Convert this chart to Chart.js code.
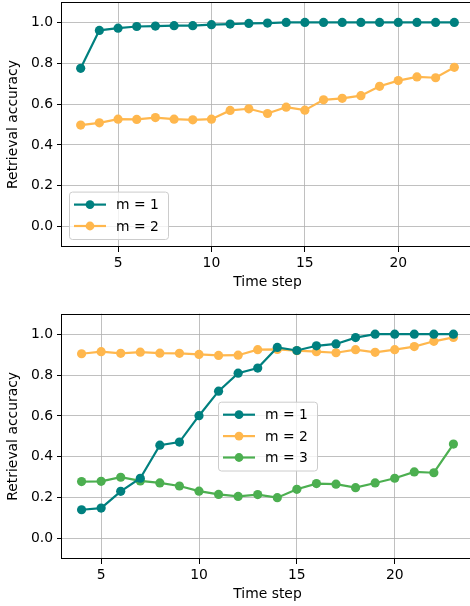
<!DOCTYPE html>
<html>
<head>
<meta charset="utf-8">
<script src="https://cdn.jsdelivr.net/npm/chart.js@4"></script>
<style>
  html, body { margin: 0; padding: 0; background: #fff; overflow: hidden; }
  canvas { display: block; }
</style>
</head>
<body>
<canvas id="topChart" width="474" height="294"></canvas>
<canvas id="bottomChart" width="474" height="312"></canvas>
<script>
// values
const topSteps = [3, 4, 5, 6, 7, 8, 9, 10, 11, 12, 13, 14, 15, 16, 17, 18, 19, 20, 21, 22, 23];
const topM1 = [0.775, 0.961, 0.972, 0.980, 0.982, 0.984, 0.984, 0.989, 0.992, 0.995, 0.997, 1.0, 1.0, 1.0, 1.0, 1.0, 1.0, 1.0, 1.0, 1.0, 1.0];
const topM2 = [0.497, 0.508, 0.526, 0.525, 0.534, 0.526, 0.523, 0.526, 0.569, 0.577, 0.554, 0.585, 0.570, 0.621, 0.628, 0.641, 0.687, 0.715, 0.733, 0.729, 0.780];

const bottomSteps = [4, 5, 6, 7, 8, 9, 10, 11, 12, 13, 14, 15, 16, 17, 18, 19, 20, 21, 22, 23];
const bottomM1 = [0.141, 0.149, 0.231, 0.295, 0.457, 0.472, 0.601, 0.721, 0.809, 0.834, 0.935, 0.920, 0.943, 0.952, 0.983, 1.0, 1.0, 1.0, 1.0, 1.0];
const bottomM2 = [0.904, 0.914, 0.906, 0.912, 0.907, 0.906, 0.901, 0.896, 0.897, 0.924, 0.925, 0.919, 0.914, 0.909, 0.924, 0.911, 0.924, 0.939, 0.965, 0.984];
const bottomM3 = [0.279, 0.280, 0.300, 0.282, 0.272, 0.257, 0.232, 0.216, 0.206, 0.215, 0.200, 0.241, 0.269, 0.266, 0.249, 0.272, 0.295, 0.326, 0.322, 0.462];

const labels = ["m = 1", "m = 2", "m = 3"];
const colors = ["#00807f", "#ffb74d", "#4caf50"];
const xTicks = [5, 10, 15, 20];
const yTicks = [0.0, 0.2, 0.4, 0.6, 0.8, 1.0];

const FONT_SIZE = 13.9;
Chart.defaults.font.family = "'DejaVu Sans', sans-serif";
Chart.defaults.font.size = FONT_SIZE;
Chart.defaults.color = "#000";

// axes frame (left, bottom, top spines; right one falls off the page)
const frame = {
  id: "frame",
  afterDatasetsDraw(chart) {
    const { ctx, chartArea: a } = chart;
    ctx.save();
    ctx.strokeStyle = "#000";
    ctx.lineWidth = 1;
    const l = Math.round(a.left) - 0.5, t = Math.round(a.top) + 0.5;
    const b = Math.round(a.bottom) - 0.5, r = Math.round(a.right) - 0.5;
    ctx.strokeRect(l, t, r - l, b - t);
    ctx.restore();
  }
};

// matplotlib-like legend box inside the axes
const boxLegend = {
  id: "boxLegend",
  afterDraw(chart, args, opts) {
    const { ctx, chartArea: a } = chart;
    const sets = chart.data.datasets;
    const row = 21.4, w = 99;
    const h = 26 + row * (sets.length - 1);
    const x = a.left + opts.left;
    const y = opts.top != null ? a.top + opts.top : a.bottom - opts.bottom - h;
    ctx.save();
    ctx.fillStyle = "rgba(255,255,255,0.8)";
    ctx.strokeStyle = "#cccccc";
    ctx.lineWidth = 1;
    ctx.beginPath();
    ctx.roundRect(x + 0.5, y + 0.5, w, h, 3);
    ctx.fill();
    ctx.stroke();
    ctx.font = FONT_SIZE + "px 'DejaVu Sans', sans-serif";
    ctx.textBaseline = "middle";
    sets.forEach((ds, i) => {
      const cy = y + 13 + i * row;
      ctx.strokeStyle = ds.borderColor;
      ctx.lineWidth = 2.2;
      ctx.beginPath();
      ctx.moveTo(x + 5, cy);
      ctx.lineTo(x + 37, cy);
      ctx.stroke();
      ctx.fillStyle = ds.borderColor;
      ctx.beginPath();
      ctx.arc(x + 21, cy, 4.4, 0, Math.PI * 2);
      ctx.fill();
      ctx.fillStyle = "#000";
      ctx.fillText(ds.label, x + 47, cy + 1);
    });
    ctx.restore();
  }
};

function makeChart(id, steps, series, xMin, xMax, padTop, legendPos) {
  return new Chart(document.getElementById(id), {
    type: "line",
    data: {
      datasets: series.map((vals, i) => ({
        label: labels[i],
        data: steps.map((s, j) => ({ x: s, y: vals[j] })),
        borderColor: colors[i],
        backgroundColor: colors[i],
        borderWidth: 2.2,
        pointRadius: 4.6,
        pointHoverRadius: 4.6,
        pointBorderWidth: 0,
        tension: 0
      }))
    },
    options: {
      responsive: false,
      animation: false,
      devicePixelRatio: 1,
      layout: { autoPadding: false, padding: { top: padTop, left: 0, right: 1, bottom: 0 } },
      scales: {
        x: {
          type: "linear",
          min: xMin,
          max: xMax,
          afterBuildTicks: (s) => { s.ticks = xTicks.map((v) => ({ value: v })); },
          afterFit: (s) => { s.height = 47; s.paddingLeft = 0; s.paddingRight = 0; },
          ticks: { padding: 3, callback: (v) => String(v) },
          grid: { color: "#b0b0b0", lineWidth: 0.8, tickColor: "#000", tickLength: 5, tickWidth: 1 },
          border: { display: false },
          title: { display: true, text: "Time step", padding: { top: 0, bottom: 3 } }
        },
        y: {
          min: -0.1,
          max: 1.1,
          afterBuildTicks: (s) => { s.ticks = yTicks.map((v) => ({ value: v })); },
          afterFit: (s) => { s.width = 62; s.paddingTop = 0; s.paddingBottom = 0; },
          ticks: { padding: 4, callback: (v) => v.toFixed(1) },
          grid: { color: "#b0b0b0", lineWidth: 0.8, tickColor: "#000", tickLength: 5, tickWidth: 1 },
          border: { display: false },
          title: { display: true, text: "Retrieval accuracy", padding: { top: 5, bottom: 0 } }
        }
      },
      plugins: {
        legend: { display: false },
        tooltip: { enabled: false },
        boxLegend: legendPos
      }
    },
    plugins: [frame, boxLegend]
  });
}

makeChart("topChart", topSteps, [topM1, topM2], 2, 24, 2, { left: 7, bottom: 8 });
makeChart("bottomChart", bottomSteps, [bottomM1, bottomM2, bottomM3], 3, 24, 19.7, { left: 156, top: 88 });
</script>
</body>
</html>
